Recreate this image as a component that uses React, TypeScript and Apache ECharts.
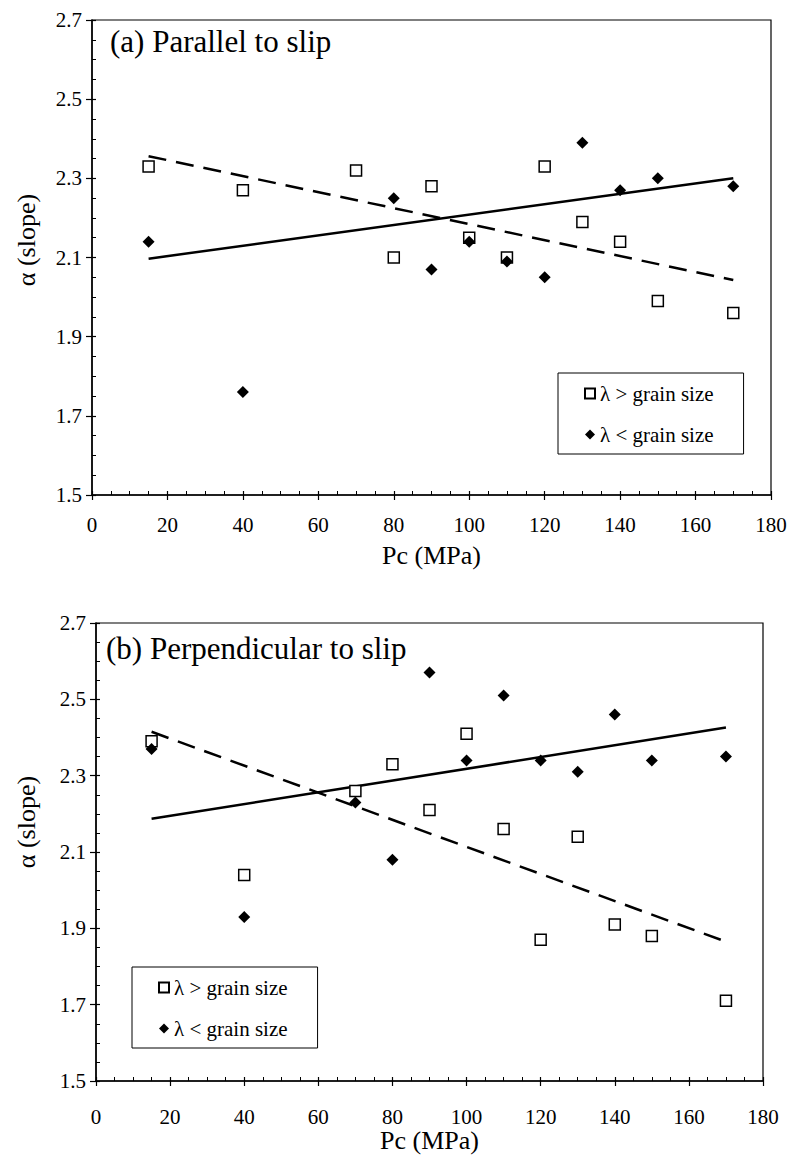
import React, { useEffect, useRef } from "react";
import * as echarts from "echarts";

// ---- Data ----
const pcLargeA = [15, 40, 70, 80, 90, 100, 110, 120, 130, 140, 150, 170];
const alphaLargeA = [2.33, 2.27, 2.32, 2.1, 2.28, 2.15, 2.1, 2.33, 2.19, 2.14, 1.99, 1.96];
const pcSmallA = [15, 40, 80, 90, 100, 110, 120, 130, 140, 150, 170];
const alphaSmallA = [2.14, 1.76, 2.25, 2.07, 2.14, 2.09, 2.05, 2.39, 2.27, 2.3, 2.28];

const pcLargeB = [15, 40, 70, 80, 90, 100, 110, 120, 130, 140, 150, 170];
const alphaLargeB = [2.39, 2.04, 2.26, 2.33, 2.21, 2.41, 2.16, 1.87, 2.14, 1.91, 1.88, 1.71];
const pcSmallB = [15, 40, 70, 80, 90, 100, 110, 120, 130, 140, 150, 170];
const alphaSmallB = [2.37, 1.93, 2.23, 2.08, 2.57, 2.34, 2.51, 2.34, 2.31, 2.46, 2.34, 2.35];

// trend-line end points
const trendX = [15, 170];
const trendLargeA = [2.356, 2.043];
const trendSmallA = [2.097, 2.3];
const trendLargeB = [2.415, 1.865];
const trendSmallB = [2.187, 2.426];

const xTicks = { min: 0, max: 180, interval: 20 };
const yTicks = { min: 1.5, max: 2.7, interval: 0.2 };

const titleA = "(a) Parallel to slip";
const titleB = "(b) Perpendicular to slip";
const xName = "Pc (MPa)";
const yName = "α (slope)";
const nameLarge = "λ > grain size";
const nameSmall = "λ < grain size";

const FONT = "Liberation Serif, Times New Roman, serif";

const pairs = (xs: number[], ys: number[]) => xs.map((x, i) => [x, ys[i]]);

export default function App() {
  const ref = useRef<HTMLDivElement>(null);

  useEffect(() => {
    if (!ref.current) return;
    const chart = echarts.init(ref.current, undefined, { renderer: "svg" });

    const rects = [
      { left: 92, top: 20, width: 679, height: 475 },
      { left: 96, top: 623, width: 667, height: 458 },
    ];

    // grids 0,1: main plots; grids 2,3: same rectangles, only carry inward ticks
    const grids = [
      ...rects.map((g) => ({ ...g, show: true, borderColor: "#000", borderWidth: 1.2, backgroundColor: "transparent" })),
      ...rects.map((g) => ({ ...g, show: false })),
    ];

    const xAxes: any[] = [];
    const yAxes: any[] = [];
    rects.forEach((g, gi) => {
      xAxes.push({
        gridIndex: gi,
        type: "value",
        ...xTicks,
        position: "bottom",
        axisLine: { show: true, onZero: false, lineStyle: { color: "#000", width: 1.5 } },
        axisTick: { show: true, inside: false, length: 5, lineStyle: { color: "#000", width: 1.2 } },
        minorTick: { show: false },
        splitLine: { show: false },
        axisLabel: {
          show: true,
          margin: gi === 0 ? 19 : 25,
          color: "#000",
          fontFamily: FONT,
          fontSize: 21,
        },
        name: xName,
        nameLocation: "middle",
        nameGap: gi === 0 ? 47 : 45,
        nameTextStyle: { color: "#000", fontFamily: FONT, fontSize: 26 },
      });
      yAxes.push({
        gridIndex: gi,
        type: "value",
        ...yTicks,
        position: "left",
        axisLine: { show: true, onZero: false, lineStyle: { color: "#000", width: 1.5 } },
        axisTick: { show: true, inside: false, length: 6, lineStyle: { color: "#000", width: 1.2 } },
        minorTick: { show: false },
        splitLine: { show: false },
        axisLabel: {
          show: true,
          margin: 10,
          color: "#000",
          fontFamily: FONT,
          fontSize: 21,
          formatter: (v: number) => v.toFixed(1),
        },
      });
    });
    rects.forEach((g, gi) => {
      xAxes.push({
        gridIndex: gi + 2,
        type: "value",
        ...xTicks,
        position: "bottom",
        axisLine: { show: false, onZero: false },
        axisTick: { show: true, inside: true, length: 4, lineStyle: { color: "#000", width: 1.2 } },
        minorTick: { show: true, splitNumber: 4, length: 4, lineStyle: { color: "#000", width: 1 } },
        splitLine: { show: false },
        axisLabel: { show: false },
      });
      yAxes.push({
        gridIndex: gi + 2,
        type: "value",
        ...yTicks,
        position: "left",
        axisLine: { show: false, onZero: false },
        axisTick: { show: true, inside: true, length: 4, lineStyle: { color: "#000", width: 1.2 } },
        minorTick: { show: true, splitNumber: 4, length: 4, lineStyle: { color: "#000", width: 1 } },
        splitLine: { show: false },
        axisLabel: { show: false },
      });
    });

    const lineSeries = (ai: number, ys: number[], dashed: boolean) => ({
      type: "line",
      xAxisIndex: ai,
      yAxisIndex: ai,
      data: pairs(trendX, ys),
      showSymbol: false,
      symbol: "none",
      silent: true,
      z: 1,
      lineStyle: { color: "#000", width: 2.5, type: dashed ? [18, 10] : "solid" },
    });

    const squareSeries = (ai: number, xs: number[], ys: number[]) => ({
      name: nameLarge,
      type: "scatter",
      xAxisIndex: ai,
      yAxisIndex: ai,
      data: pairs(xs, ys),
      symbol: "rect",
      symbolSize: 11,
      z: 2,
      itemStyle: { color: "#fff", borderColor: "#000", borderWidth: 1.5, opacity: 1 },
    });

    const diamondSeries = (ai: number, xs: number[], ys: number[]) => ({
      name: nameSmall,
      type: "scatter",
      xAxisIndex: ai,
      yAxisIndex: ai,
      data: pairs(xs, ys),
      symbol: "diamond",
      symbolSize: 12,
      z: 3,
      itemStyle: { color: "#000", borderWidth: 0, opacity: 1 },
    });

    const legendBase = {
      orient: "vertical",
      itemWidth: 10,
      itemHeight: 10,
      itemGap: 20,
      padding: [10, 30, 9, 26],
      borderColor: "#000",
      borderWidth: 1,
      selectedMode: false,
      textStyle: { color: "#000", fontFamily: FONT, fontSize: 21 },
      data: [
        { name: nameLarge, icon: "rect" },
        { name: nameSmall, icon: "diamond" },
      ],
    };

    const yTitle = (y: number) => ({
      type: "text",
      x: 26,
      y,
      rotation: Math.PI / 2,
      style: {
        text: yName,
        fill: "#000",
        font: `26px ${FONT}`,
        align: "center",
        verticalAlign: "middle",
      },
    });

    chart.setOption({
      animation: false,
      backgroundColor: "#fff",
      grid: grids,
      xAxis: xAxes,
      yAxis: yAxes,
      legend: [
        { ...legendBase, left: 558, top: 373 },
        { ...legendBase, left: 132, top: 967 },
      ],
      graphic: [
        {
          type: "text",
          left: 110,
          top: 26,
          style: { text: titleA, fill: "#000", font: `31px ${FONT}` },
        },
        {
          type: "text",
          left: 106,
          top: 633,
          style: { text: titleB, fill: "#000", font: `31px ${FONT}` },
        },
        yTitle(240),
        yTitle(822),
      ],
      series: [
        lineSeries(0, trendLargeA, true),
        lineSeries(0, trendSmallA, false),
        squareSeries(0, pcLargeA, alphaLargeA),
        diamondSeries(0, pcSmallA, alphaSmallA),
        lineSeries(1, trendLargeB, true),
        lineSeries(1, trendSmallB, false),
        squareSeries(1, pcLargeB, alphaLargeB),
        diamondSeries(1, pcSmallB, alphaSmallB),
      ],
    });

    return () => chart.dispose();
  }, []);

  return (
    <div
      ref={ref}
      style={{ position: "absolute", left: 0, top: 0, width: 795, height: 1165, background: "#fff" }}
    />
  );
}
